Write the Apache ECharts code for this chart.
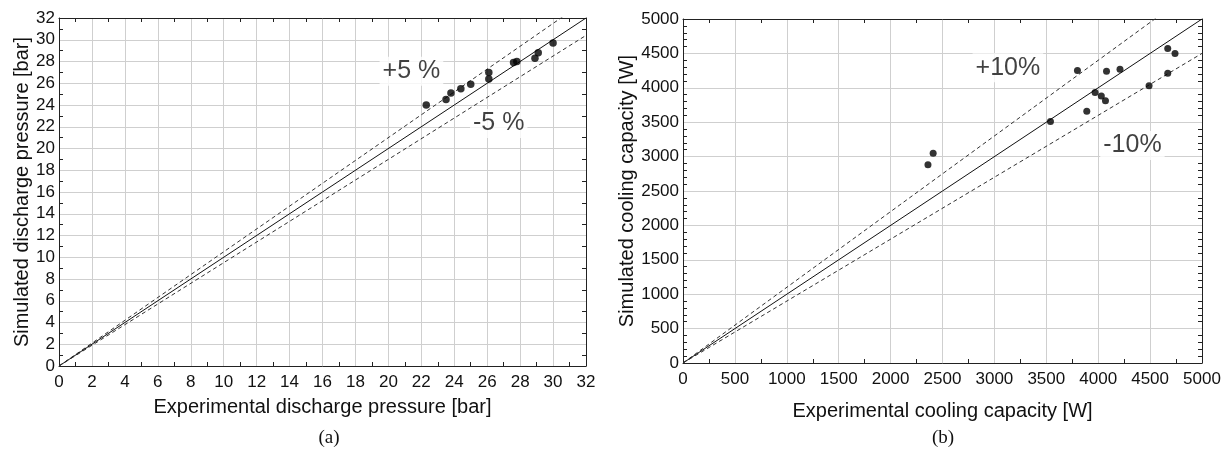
<!DOCTYPE html>
<html><head><meta charset="utf-8">
<script src="https://cdn.jsdelivr.net/npm/echarts@6/dist/echarts.min.js"></script>
<style>html,body{margin:0;padding:0;background:#fff}#c{width:1232px;height:459px}</style>
</head><body><div id="c"></div>
<script>
// ---- data (a): discharge pressure [bar]
const pressureExp = [22.3, 23.5, 23.8, 24.4, 25.0, 26.1, 26.1, 27.6, 27.8, 28.9, 29.1, 30.0];
const pressureSim = [24.0, 24.5, 25.1, 25.5, 25.9, 27.0, 26.4, 27.9, 28.0, 28.3, 28.8, 29.7];
const pressureTicks = [0, 2, 4, 6, 8, 10, 12, 14, 16, 18, 20, 22, 24, 26, 28, 30, 32];
const pressureBands = [1.05, 1.0, 0.95];
const pressureBandLabels = ['+5 %', '-5 %'];
// ---- data (b): cooling capacity [W]
const coolingExp = [2360, 2410, 3540, 3800, 3890, 3970, 4030, 4070, 4080, 4210, 4490, 4670, 4740, 4670];
const coolingSim = [2880, 3050, 3510, 4250, 3660, 3930, 3880, 3810, 4240, 4270, 4030, 4570, 4500, 4210];
const coolingTicks = [0, 500, 1000, 1500, 2000, 2500, 3000, 3500, 4000, 4500, 5000];
const coolingBands = [1.10, 1.0, 0.90];
const coolingBandLabels = ['+10%', '-10%'];
// ---- texts
const titles = {
  aX: 'Experimental discharge pressure [bar]',
  aY: 'Simulated discharge pressure [bar]',
  bX: 'Experimental cooling capacity [W]',
  bY: 'Simulated cooling capacity [W]',
  aCap: '(a)', bCap: '(b)'
};

const FONT = '"Liberation Sans", Arial, sans-serif';
const AX = '#222', GRIDC = '#cfcfcf', TXT = '#111';

function mkAxis(type, ticks, gridIndex, opts) {
  const main = opts.main;
  const ax = {
    type: 'value', gridIndex,
    min: ticks[0], max: ticks[ticks.length - 1], interval: ticks[1] - ticks[0],
    position: opts.position,
    axisLine: { show: true, onZero: false, lineStyle: { color: AX, width: 1 } },
    axisTick: { show: false, inside: true },
    minorTick: { show: true, splitNumber: opts.minor, length: 4, lineStyle: { color: AX, width: 1 } },
    splitLine: { show: main, lineStyle: { color: GRIDC, width: 1 } },
    minorSplitLine: { show: false },
    axisLabel: main ? {
      show: true, color: TXT, fontFamily: FONT, fontSize: 17, margin: opts.labelMargin,
      showMinLabel: true, showMaxLabel: true, hideOverlap: false,
      formatter: v => String(v)
    } : { show: false },
    silent: true
  };
  if (main) {
    ax.name = opts.name; ax.nameLocation = 'middle'; ax.nameGap = opts.nameGap;
    ax.nameTextStyle = { color: TXT, fontFamily: FONT, fontSize: 20 };
    if (type === 'y') ax.nameRotate = 90;
  }
  return ax;
}

function refLines(bands, max, xi, yi) {
  return bands.map(f => ({
    type: 'line', xAxisIndex: xi, yAxisIndex: yi, clip: true, silent: true,
    symbol: 'none', animation: false,
    data: [[0, 0], [max, max * f]],
    lineStyle: f === 1 ? { color: '#111', width: 1 } : { color: '#333', width: 1, type: [4, 3] },
    z: 2
  }));
}

function labelSeries(xi, yi, pts, texts) {
  return {
    type: 'scatter', xAxisIndex: xi, yAxisIndex: yi, silent: true, animation: false,
    symbolSize: 1, itemStyle: { color: 'rgba(0,0,0,0)' },
    data: pts.map((p, i) => ({ value: p, label: { formatter: texts[i] } })),
    label: {
      show: true, position: 'inside', color: TXT, fontFamily: FONT, fontSize: 25,
      backgroundColor: '#fff', padding: [2, 3]
    },
    labelLayout: { hideOverlap: false },
    z: 3
  };
}

const chart = echarts.init(document.getElementById('c'), null, { renderer: 'canvas' });
const pMax = pressureTicks[pressureTicks.length - 1];
const cMax = coolingTicks[coolingTicks.length - 1];

chart.setOption({
  backgroundColor: '#fff',
  animation: false,
  grid: [
    { left: 59, top: 18, width: 527, height: 348, show: false },
    { left: 683, top: 19, width: 519, height: 344, show: false }
  ],
  xAxis: [
    mkAxis('x', pressureTicks, 0, { main: true, position: 'bottom', minor: 2, labelMargin: 8, name: titles.aX, nameGap: 31 }),
    mkAxis('x', coolingTicks, 1, { main: true, position: 'bottom', minor: 2, labelMargin: 8, name: titles.bX, nameGap: 38 }),
    mkAxis('x', pressureTicks, 0, { main: false, position: 'top', minor: 2 }),
    mkAxis('x', coolingTicks, 1, { main: false, position: 'top', minor: 2 })
  ],
  yAxis: [
    mkAxis('y', pressureTicks, 0, { main: true, position: 'left', minor: 2, labelMargin: 4, name: titles.aY, nameGap: 27 }),
    mkAxis('y', coolingTicks, 1, { main: true, position: 'left', minor: 5, labelMargin: 4, name: titles.bY, nameGap: 45 }),
    mkAxis('y', pressureTicks, 0, { main: false, position: 'right', minor: 2 }),
    mkAxis('y', coolingTicks, 1, { main: false, position: 'right', minor: 5 })
  ],
  series: [
    ...refLines(pressureBands, pMax, 0, 0),
    ...refLines(coolingBands, cMax, 1, 1),
    {
      type: 'scatter', xAxisIndex: 0, yAxisIndex: 0, symbolSize: 7.5,
      itemStyle: { color: '#000' }, z: 4,
      data: pressureExp.map((x, i) => [x, pressureSim[i]])
    },
    {
      type: 'scatter', xAxisIndex: 1, yAxisIndex: 1, symbolSize: 7,
      itemStyle: { color: '#000' }, z: 4,
      data: coolingExp.map((x, i) => [x, coolingSim[i]])
    },
    labelSeries(0, 0, [[21.4, 27.1], [26.7, 22.3]], pressureBandLabels),
    labelSeries(1, 1, [[3130, 4290], [4330, 3160]], coolingBandLabels)
  ],
  graphic: [
    { type: 'text', x: 329, y: 438, style: { text: titles.aCap, x: 0, y: 0, align: 'center', verticalAlign: 'middle', fontFamily: '"Liberation Serif", "Times New Roman", serif', fontSize: 19, fill: TXT } },
    { type: 'text', x: 943, y: 438, style: { text: titles.bCap, x: 0, y: 0, align: 'center', verticalAlign: 'middle', fontFamily: '"Liberation Serif", "Times New Roman", serif', fontSize: 19, fill: TXT } }
  ]
});
</script>
</body></html>
